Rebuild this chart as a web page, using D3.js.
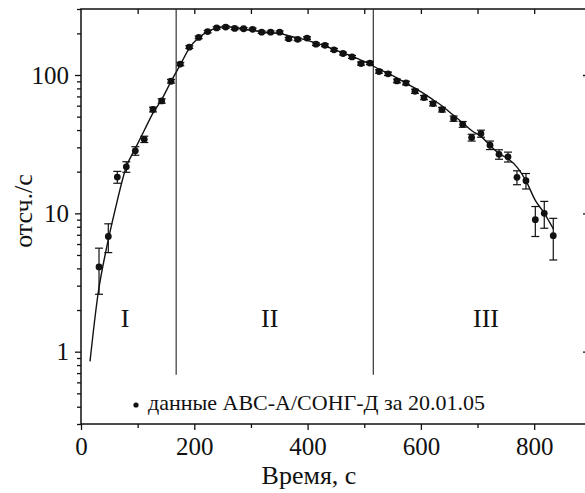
<!DOCTYPE html>
<html>
<head>
<meta charset="utf-8">
<script src="https://cdn.jsdelivr.net/npm/d3@7"></script>
<style>
	body { margin: 0; background: #fff; overflow: hidden; }
</style>
</head>
<body>
<script>
// данные (время, с / отсчеты в секунду)
var time = [31.8, 48.2, 64.1, 80, 95.9, 111.7, 127.1, 142.4, 158.9, 175.3, 191.2, 207.7, 223.6, 239.5, 255.4,
	271.3, 287.1, 303, 318.9, 334.8, 350.7, 366.6, 382.5, 399, 414.8, 430.7, 446.6, 462.5, 478.4, 494.3,
	510, 526, 542, 557.8, 573.7, 589.6, 605.5, 621.4, 637.2, 657.8, 673.8, 689.6, 706, 722, 737.9,
	753.8, 769.6, 785.5, 802, 817.8, 833.7];
var rate = [4.1, 6.8, 18.3, 21.7, 28.3, 34.3, 56.3, 64.9, 90.1, 120, 159, 187, 206, 219, 222,
	217, 216, 214, 204, 204, 204, 183, 181, 185, 167, 164, 152, 143, 135, 121,
	122, 106, 102, 90.6, 87.5, 76.3, 68.7, 62.1, 56.2, 48.4, 44, 35.3, 37.7, 31.1, 26.7,
	25.6, 18.2, 17.2, 9.0, 10.0, 6.9];
var rateErr = [1.5, 1.6, 1.8, 1.9, 2.0, 1.8, 2.2, 2.4, 2.8, 3.2, 3.6, 3.9, 4.1, 4.3, 4.3,
	4.2, 4.2, 4.2, 4.1, 4.1, 4.1, 3.9, 3.9, 3.9, 3.7, 3.7, 3.5, 3.4, 3.3, 3.2,
	3.2, 3.0, 2.9, 2.8, 2.7, 2.6, 2.4, 2.3, 2.2, 2.1, 2.1, 2.0, 2.2, 2.2, 2.1,
	2.1, 2.1, 2.2, 2.2, 2.2, 2.3];

// модельная кривая
var fitTime = [15.9, 30, 45, 60, 80, 96, 112, 127, 142, 159, 168, 175, 191, 207, 224, 240, 256, 272, 288,
	303, 320, 336, 352, 367, 383, 400, 415, 431, 447, 462, 478, 494, 510, 516, 526, 542, 558,
	574, 590, 606, 622, 637, 654, 674, 690, 706, 722, 738, 754, 770, 786, 802, 818, 834];
var fitRate = [0.85, 2.6, 5.6, 10.5, 21.7, 29.5, 40, 53, 66, 90, 105, 118, 156, 185, 206, 218, 224, 220, 214,
	210, 205, 202, 199, 192, 185, 178, 170, 162, 153, 145, 137, 128, 120, 116, 110, 103, 95,
	87, 80, 73, 66, 60, 52.5, 45, 39.5, 36, 31, 27, 24.8, 21.5, 17, 12.4, 10, 7.7];

var regionBounds = [168, 516];
var regionNames = ["I", "II", "III"];
var regionPos = [78, 333, 715];
var xTicks = [0, 200, 400, 600, 800];
var yTicks = [1, 10, 100];

var W = 585, H = 493;
var m = { left: 81, top: 9, right: 588, bottom: 424 };
var FONT = "'Liberation Serif', serif";

var svg = d3.select("body").append("svg")
	.attr("width", W)
	.attr("height", H)
	.style("font-family", FONT);

var x = d3.scaleLinear().domain([0, 895]).range([m.left, m.right]);
var y = d3.scaleLog().domain([0.3, 300]).range([m.bottom, m.top]);

// мелкие деления лог. оси
var minorY = [];
[0.1, 1, 10, 100].forEach(function(d) {
	for (var k = 2; k <= 9; k++) {
		var v = d * k;
		if (v >= 0.3 && v <= 300) minorY.push(v);
	}
});

var g = svg.append("g");

function styleAxis(s) {
	s.attr("font-family", null);
	s.select(".domain").remove();
	s.selectAll("text")
		.style("font-family", FONT)
		.style("font-size", "25px")
		.attr("fill", "#111");
}

// оси: нижняя и левая - деления наружу
g.append("g")
	.attr("transform", "translate(0," + m.bottom + ")")
	.call(d3.axisBottom(x).tickValues(d3.range(100, 900, 200)).tickSize(4).tickFormat(""))
	.call(styleAxis);
g.append("g")
	.attr("transform", "translate(0," + m.bottom + ")")
	.call(d3.axisBottom(x).tickValues(xTicks).tickSize(6).tickPadding(7).tickFormat(d3.format("d")))
	.call(styleAxis);

g.append("g")
	.attr("transform", "translate(" + m.left + ",0)")
	.call(d3.axisLeft(y).tickValues(minorY).tickSize(4).tickFormat(""))
	.call(styleAxis);
g.append("g")
	.attr("transform", "translate(" + m.left + ",0)")
	.call(d3.axisLeft(y).tickValues(yTicks).tickSize(6).tickPadding(6).tickFormat(d3.format("d")))
	.call(styleAxis);

// верхняя и правая оси - деления внутрь
g.append("g")
	.attr("transform", "translate(0," + m.top + ")")
	.call(d3.axisTop(x).tickValues(d3.range(100, 900, 100)).tickSize(-5).tickFormat(""))
	.call(styleAxis);
g.append("g")
	.attr("transform", "translate(" + m.right + ",0)")
	.call(d3.axisRight(y).tickValues(yTicks).tickSize(-5).tickFormat(""))
	.call(styleAxis);

g.selectAll(".tick line").attr("stroke", "#111").attr("stroke-width", 1.3);

// рамка
svg.append("rect")
	.attr("x", m.left).attr("y", m.top)
	.attr("width", m.right - m.left).attr("height", m.bottom - m.top)
	.attr("fill", "none").attr("stroke", "#111").attr("stroke-width", 1.5);

// границы фаз
svg.selectAll(".bound").data(regionBounds).enter().append("line")
	.attr("x1", function(d) { return x(d); })
	.attr("x2", function(d) { return x(d); })
	.attr("y1", y(300)).attr("y2", y(0.68))
	.attr("stroke", "#333").attr("stroke-width", 1.2);

svg.selectAll(".region").data(regionNames).enter().append("text")
	.attr("x", function(d, i) { return x(regionPos[i]); })
	.attr("y", 327)
	.attr("text-anchor", "middle")
	.attr("fill", "#111")
	.style("font-size", "26px")
	.text(function(d) { return d; });

// кривая
var line = d3.line()
	.x(function(d, i) { return x(fitTime[i]); })
	.y(function(d) { return y(d); })
	.curve(d3.curveMonotoneX);
svg.append("path")
	.attr("d", line(fitRate))
	.attr("fill", "none")
	.attr("stroke", "#111")
	.attr("stroke-width", 1.4);

// точки с ошибками
var pts = svg.selectAll(".pt").data(rate).enter().append("g");
pts.append("line")
	.attr("x1", function(d, i) { return x(time[i]); })
	.attr("x2", function(d, i) { return x(time[i]); })
	.attr("y1", function(d, i) { return y(d + rateErr[i]); })
	.attr("y2", function(d, i) { return y(d - rateErr[i]); })
	.attr("stroke", "#111").attr("stroke-width", 1.2);
[1, -1].forEach(function(sgn) {
	pts.append("line")
		.attr("x1", function(d, i) { return x(time[i]) - 4; })
		.attr("x2", function(d, i) { return x(time[i]) + 4; })
		.attr("y1", function(d, i) { return y(d + sgn * rateErr[i]); })
		.attr("y2", function(d, i) { return y(d + sgn * rateErr[i]); })
		.attr("stroke", "#111").attr("stroke-width", 1.2);
});
pts.append("circle")
	.attr("cx", function(d, i) { return x(time[i]); })
	.attr("cy", function(d) { return y(d); })
	.attr("r", 3.4)
	.attr("fill", "#111");

// легенда
svg.append("circle").attr("cx", 136).attr("cy", 405).attr("r", 2.6).attr("fill", "#111");
svg.append("text")
	.attr("x", 148).attr("y", 410)
	.attr("fill", "#111")
	.style("font-size", "22px")
	.text("данные АВС-А/СОНГ-Д за 20.01.05");

// подписи осей
svg.append("text")
	.attr("x", 309).attr("y", 484)
	.attr("text-anchor", "middle")
	.attr("fill", "#111")
	.style("font-size", "26px")
	.text("Время, с");
svg.append("text")
	.attr("transform", "translate(32,211) rotate(-90)")
	.attr("text-anchor", "middle")
	.attr("fill", "#111")
	.style("font-size", "26px")
	.text("отсч./с");
</script>
</body>
</html>
